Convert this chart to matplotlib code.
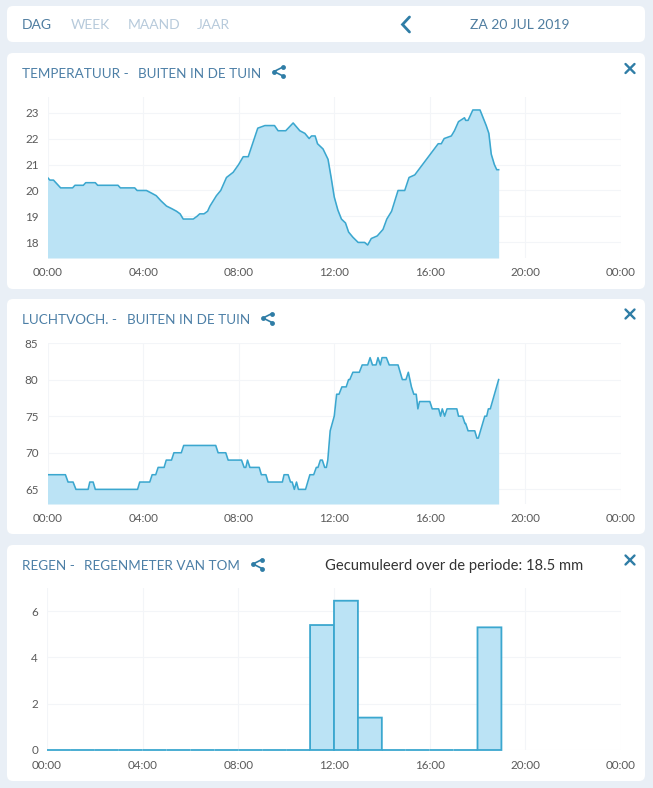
import matplotlib
matplotlib.use("Agg")
import matplotlib.pyplot as plt
from matplotlib.patches import FancyBboxPatch

plt.rcParams['font.family'] = ['Lato', 'DejaVu Sans']

# colours
BG = '#E9EFF6'
LINE = '#3BA7CF'
FILL = '#BBE3F5'
TITLE = '#4C7FA6'
ICON = '#2F7DA6'
GRID = '#F3F5F8'
TICK = '#5A5A5A'

W, H = 653, 788

hour_ticks = [0, 4, 8, 12, 16, 20, 24]
hour_labels = ['00:00', '04:00', '08:00', '12:00', '16:00', '20:00', '00:00']

# temperature
temp_t = [0, 0.1, 0.25, 0.35, 0.45, 0.55, 1.05, 1.15, 1.5, 1.6, 2.0, 2.1, 2.95, 3.05, 3.65, 3.75, 4.14,
          4.35, 4.55, 4.75, 4.98, 5.2, 5.4, 5.55, 5.68, 6.1, 6.25, 6.37, 6.55, 6.7, 6.8, 7.07, 7.25, 7.49,
          7.77, 8.0, 8.19, 8.4, 8.8, 9.1, 9.5, 9.65, 9.97, 10.28, 10.56, 10.77, 10.95, 11.05, 11.2, 11.3,
          11.53, 11.74, 11.87, 12.0, 12.15, 12.3, 12.47, 12.6, 12.78, 13.0, 13.27, 13.4, 13.55, 13.8,
          14.04, 14.2, 14.4, 14.67, 14.95, 15.13, 15.37, 16.35, 16.48, 16.6, 16.9, 17.03, 17.2, 17.45,
          17.5, 17.6, 17.8, 18.1, 18.36, 18.47, 18.57, 18.7, 18.8, 18.88]
temp_v = [20.5, 20.4, 20.4, 20.3, 20.2, 20.1, 20.1, 20.2, 20.2, 20.3, 20.3, 20.2, 20.2, 20.1, 20.1, 20.0, 20.0,
          19.9, 19.8, 19.6, 19.4, 19.3, 19.2, 19.1, 18.9, 18.9, 19.0, 19.1, 19.1, 19.2, 19.4, 19.8, 20.0, 20.5,
          20.7, 21.0, 21.3, 21.3, 22.4, 22.5, 22.5, 22.3, 22.3, 22.6, 22.3, 22.2, 22.0, 22.1, 22.1, 21.8,
          21.6, 21.2, 20.5, 19.75, 19.25, 18.9, 18.75, 18.4, 18.2, 18.0, 18.0, 17.9, 18.15, 18.25,
          18.5, 18.9, 19.2, 20.0, 20.0, 20.5, 20.6, 21.8, 21.8, 22.0, 22.1, 22.3, 22.65, 22.8,
          22.7, 22.7, 23.1, 23.1, 22.5, 22.2, 21.4, 21.0, 20.8, 20.8]

# humidity
hum_t = [0, 0.75, 0.86, 1.07, 1.19, 1.7, 1.77, 1.91, 2.0, 3.77, 3.86, 4.28, 4.38, 4.53, 4.63, 4.88, 4.97,
         5.19, 5.29, 5.6, 5.7, 7.04, 7.14, 7.46, 7.56, 8.12, 8.23, 8.3, 8.37, 8.47, 8.86, 8.95, 9.14, 9.23,
         9.83, 9.9, 10.07, 10.17, 10.24, 10.33, 10.42, 10.5, 10.8, 10.98, 11.14, 11.25, 11.32, 11.42, 11.5,
         11.6, 11.67, 11.73, 11.83, 12.0, 12.1, 12.2, 12.32, 12.5, 12.6, 12.65, 12.78, 13.05, 13.17, 13.4,
         13.5, 13.6, 13.75, 13.83, 13.93, 14.0, 14.18, 14.3, 14.67, 14.85, 15.0, 15.1, 15.23, 15.33, 15.43,
         15.5, 15.57, 16.0, 16.1, 16.37, 16.45, 16.52, 16.62, 16.72, 17.13, 17.2, 17.37, 17.47, 17.5, 17.6,
         17.88, 17.97, 18.03, 18.3, 18.38, 18.45, 18.53, 18.88]
hum_v = [67, 67, 66, 66, 65, 65, 66, 66, 65, 65, 66, 66, 67, 67, 68, 68, 69,
         69, 70, 70, 71, 71, 70, 70, 69, 69, 68, 68, 69, 68, 68, 67, 67, 66,
         66, 67, 67, 66, 66, 65, 66, 65, 65, 67, 67, 68, 68, 69, 69,
         68, 68, 69, 73, 75, 78, 78, 79, 79, 80, 80, 81, 81, 82, 82,
         83, 82, 82, 83, 82, 83, 83, 82, 82, 80, 80, 81, 79, 78, 78,
         76, 77, 77, 76, 76, 75, 76, 75, 76, 76, 75, 75, 74, 74, 73,
         73, 72, 72, 75, 75, 76, 76, 80]

# rain per hour
rain_t = list(range(19))
rain_v = [0, 0, 0, 0, 0, 0, 0, 0, 0, 0, 0, 5.4, 6.45, 1.4, 0, 0, 0, 0, 5.3]

fig = plt.figure(figsize=(W / 100, H / 100), dpi=100, facecolor=BG)

# full size layer for cards and header text, in pixels
bg = fig.add_axes([0, 0, 1, 1], zorder=0)
bg.set_xlim(0, W)
bg.set_ylim(H, 0)
bg.axis('off')


def card(y0, y1):
    bg.add_patch(FancyBboxPatch((11, y0 + 4), 630, y1 - y0 - 8, boxstyle='round,pad=4,rounding_size=6',
                                fc='white', ec='none'))


def share(x, y):
    bg.plot([x + 5, x - 4, x + 5], [y - 4.5, y, y + 4.5], color=ICON, lw=1.2, solid_capstyle='round')
    bg.plot([x + 5, x - 4, x + 5], [y - 4.5, y, y + 4.5], ls='none', marker='o', ms=3.5, mew=0, color=ICON)


def close(x, y):
    s = 4.5
    bg.plot([x - s, x + s], [y - s, y + s], color=ICON, lw=1.7, solid_capstyle='round')
    bg.plot([x - s, x + s], [y + s, y - s], color=ICON, lw=1.7, solid_capstyle='round')


card(6, 42)
card(53, 289)
card(299, 534)
card(545, 781)

for label, x, col in [('DAG', 22, '#4F7DA0'), ('WEEK', 71, '#B7CADB'), ('MAAND', 128, '#B7CADB'), ('JAAR', 197, '#B7CADB')]:
    bg.text(x, 25, label, color=col, fontsize=10, va='center', ha='left')
bg.text(519.5, 25, 'ZA 20 JUL 2019', color='#4F7DA0', fontsize=10, va='center', ha='center')
bg.plot([409.5, 402.5, 409.5], [17, 24.5, 32], color=ICON, lw=2.0, solid_capstyle='round', solid_joinstyle='miter')

bg.text(22, 73.5, 'TEMPERATUUR -', color=TITLE, fontsize=9.7, va='center')
bg.text(138, 73.5, 'BUITEN IN DE TUIN', color=TITLE, fontsize=9.7, va='center')
share(278, 71.5)
close(630, 68.5)

bg.text(22, 319.5, 'LUCHTVOCH. -', color=TITLE, fontsize=9.7, va='center')
bg.text(127, 319.5, 'BUITEN IN DE TUIN', color=TITLE, fontsize=9.7, va='center')
share(267, 318)
close(630, 314)

bg.text(22, 565.5, 'REGEN -', color=TITLE, fontsize=9.7, va='center')
bg.text(84, 565.5, 'REGENMETER VAN TOM', color=TITLE, fontsize=9.7, va='center')
share(257, 564)
close(630, 560)
bg.text(325, 566, 'Gecumuleerd over de periode: 18.5 mm', color='#333333', fontsize=10.6, va='center')


def make_axes(top, bottom, ymin, ymax, yticks, left=47.5):
    ax = fig.add_axes([left / W, 1 - bottom / H, (621 - left) / W, (bottom - top) / H], zorder=1)
    ax.patch.set_alpha(0)
    ax.set_xlim(0, 24)
    ax.set_ylim(ymin, ymax)
    ax.set_xticks(hour_ticks, hour_labels)
    ax.set_yticks(yticks)
    ax.grid(True, color=GRID, lw=0.8)
    ax.set_axisbelow(True)
    for s in ax.spines.values():
        s.set_visible(False)
    ax.tick_params(length=0, labelsize=8.4, labelcolor=TICK, pad=6.5)
    return ax


ax1 = make_axes(97, 258, 17.4, 23.6, [18, 19, 20, 21, 22, 23])
ax1.fill_between(temp_t, temp_v, 17.4, color=FILL, lw=0)
ax1.plot(temp_t, temp_v, color=LINE, lw=1.15)

ax2 = make_axes(343, 504, 63, 85, [65, 70, 75, 80, 85])
ax2.fill_between(hum_t, hum_v, 63, color=FILL, lw=0)
ax2.plot(hum_t, hum_v, color=LINE, lw=1.15)

ax3 = make_axes(588, 750, 0, 7, [0, 2, 4, 6], left=47)
ax3.bar(rain_t, rain_v, width=1, align='edge', color=FILL, edgecolor=LINE, lw=1.3, clip_on=False, snap=False)
ax3.tick_params(axis='x', pad=7)

fig.savefig('out.png', dpi=100, facecolor=BG)
